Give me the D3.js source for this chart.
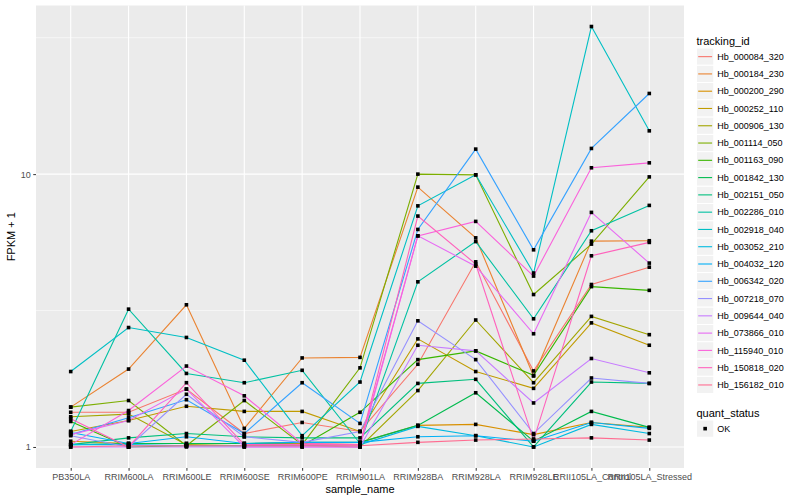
<!DOCTYPE html>
<html>
<head>
<meta charset="utf-8">
<script src="https://cdn.jsdelivr.net/npm/d3@7"></script>
<style>
  body { margin: 0; background: #fff; }
  svg { font-family: "Liberation Sans", Arial, sans-serif; }
</style>
</head>
<body>
<div id="chart"></div>
<script>
// x categories
const sampleNames = ["PB350LA", "RRIM600LA", "RRIM600LE", "RRIM600SE", "RRIM600PE", "RRIM901LA",
  "RRIM928BA", "RRIM928LA", "RRIM928LE", "RRII105LA_Control", "RRII105LA_Stressed"];

const trackingIds = ["Hb_000084_320", "Hb_000184_230", "Hb_000200_290", "Hb_000252_110", "Hb_000906_130",
  "Hb_001114_050", "Hb_001163_090", "Hb_001842_130", "Hb_002151_050", "Hb_002286_010",
  "Hb_002918_040", "Hb_003052_210", "Hb_004032_120", "Hb_006342_020", "Hb_007218_070",
  "Hb_009644_040", "Hb_073866_010", "Hb_115940_010", "Hb_150818_020", "Hb_156182_010"];

// FPKM + 1 per gene, one value per sample
const hb_000084_320 = [1.34, 1.34, 1.63, 1.12, 1.23, 1.14, 2.01, 4.77, 1.90, 3.94, 4.56];
const hb_000184_230 = [1.40, 1.93, 3.32, 1.17, 2.12, 2.13, 8.96, 5.84, 1.82, 5.68, 5.70];
const hb_000200_290 = [1.05, 1.03, 1.03, 1.03, 1.03, 1.04, 1.20, 1.21, 1.11, 1.23, 1.18];
const hb_000252_110 = [1.14, 1.25, 1.41, 1.35, 1.35, 1.14, 2.49, 1.89, 1.64, 2.85, 2.36];
const hb_000906_130 = [1.29, 1.32, 1.02, 1.01, 1.01, 1.00, 1.61, 2.92, 1.72, 3.01, 2.58];
const hb_001114_050 = [1.40, 1.48, 1.01, 1.48, 1.02, 1.95, 10.0, 9.94, 3.62, 5.54, 9.77];
const hb_001163_090 = [1.24, 1.00, 1.01, 1.01, 1.01, 1.34, 2.09, 2.25, 1.83, 3.87, 3.75];
const hb_001842_130 = [1.02, 1.03, 1.03, 1.03, 1.04, 1.04, 1.20, 1.58, 1.05, 1.35, 1.18];
const hb_002151_050 = [1.02, 1.08, 1.12, 1.09, 1.08, 1.08, 1.71, 1.77, 1.00, 1.73, 1.71];
const hb_002286_010 = [1.14, 3.20, 1.86, 1.72, 1.91, 1.03, 4.03, 5.66, 2.95, 6.20, 7.68];
const hb_002918_040 = [1.89, 2.74, 2.52, 2.08, 1.10, 1.73, 7.65, 9.94, 4.34, 34.75, 14.41];
const hb_003052_210 = [1.02, 1.02, 1.01, 1.01, 1.01, 1.02, 1.19, 1.10, 1.00, 1.21, 1.12];
const hb_004032_120 = [1.13, 1.03, 1.09, 1.03, 1.04, 1.04, 1.09, 1.10, 1.05, 1.23, 1.17];
const hb_006342_020 = [1.11, 1.28, 1.49, 1.12, 1.72, 1.22, 6.27, 12.35, 5.28, 12.42, 19.75];
const hb_007218_070 = [1.10, 1.00, 1.56, 1.09, 1.04, 1.14, 2.90, 2.09, 1.12, 1.79, 1.71];
const hb_009644_040 = [1.00, 1.00, 1.00, 1.00, 1.00, 1.00, 2.36, 2.25, 1.45, 2.11, 1.87];
const hb_073866_010 = [1.11, 1.25, 1.63, 1.00, 1.00, 1.00, 5.94, 4.60, 2.60, 7.24, 4.72];
const hb_115940_010 = [1.02, 1.36, 1.98, 1.54, 1.03, 1.02, 5.94, 6.71, 4.23, 10.55, 11.00];
const hb_150818_020 = [1.27, 1.00, 1.72, 1.02, 1.02, 1.02, 7.02, 4.68, 1.06, 5.02, 5.62];
const hb_156182_010 = [1.00, 1.01, 1.01, 1.01, 1.01, 1.01, 1.04, 1.06, 1.07, 1.08, 1.06];

const yTicks = [1, 10];
const yMinor = [Math.sqrt(10), Math.sqrt(1000)];
const quantStatus = ["OK"];

const seriesValues = [hb_000084_320, hb_000184_230, hb_000200_290, hb_000252_110, hb_000906_130,
  hb_001114_050, hb_001163_090, hb_001842_130, hb_002151_050, hb_002286_010,
  hb_002918_040, hb_003052_210, hb_004032_120, hb_006342_020, hb_007218_070,
  hb_009644_040, hb_073866_010, hb_115940_010, hb_150818_020, hb_156182_010];

// ggplot default hue palette for 20 levels
const palette = ["#F8766D", "#EA8331", "#D89000", "#C09B00", "#A3A500", "#7CAE00", "#39B600", "#00BB4E",
  "#00BF7D", "#00C1A3", "#00BFC4", "#00BAE0", "#00B0F6", "#35A2FF", "#9590FF", "#C77CFF",
  "#E76BF3", "#FA62DB", "#FF62BC", "#FF6C91"];

const series = trackingIds.map((id, i) => ({
  id,
  values: sampleNames.map((s, j) => ({ sample: s, value: seriesValues[i][j] }))
}));

const width = 800, height = 500;
const panel = { left: 36, right: 684, top: 5.5, bottom: 468 };

const svg = d3.select("#chart").append("svg")
  .attr("width", width)
  .attr("height", height);

// Scales: discrete x with ggplot's 0.6 expansion, log y with 5% expansion
const x = d3.scalePoint()
  .domain(sampleNames)
  .range([panel.left, panel.right])
  .padding(0.6);

const allVals = seriesValues.flat();
const lo = Math.log10(d3.min(allVals)), hi = Math.log10(d3.max(allVals));
const pad = (hi - lo) * 0.05;
const y = d3.scaleLog()
  .domain([Math.pow(10, lo - pad), Math.pow(10, hi + pad)])
  .range([panel.bottom, panel.top]);

// Panel background
svg.append("rect")
  .attr("x", panel.left)
  .attr("y", panel.top)
  .attr("width", panel.right - panel.left)
  .attr("height", panel.bottom - panel.top)
  .attr("fill", "#EBEBEB");

// Grid
const grid = svg.append("g");
grid.selectAll(".minor")
  .data(yMinor)
  .enter()
  .append("line")
  .attr("x1", panel.left).attr("x2", panel.right)
  .attr("y1", d => y(d)).attr("y2", d => y(d))
  .attr("stroke", "#fff")
  .attr("stroke-width", 0.55);

grid.selectAll(".majorY")
  .data(yTicks)
  .enter()
  .append("line")
  .attr("x1", panel.left).attr("x2", panel.right)
  .attr("y1", d => y(d)).attr("y2", d => y(d))
  .attr("stroke", "#fff")
  .attr("stroke-width", 1.1);

grid.selectAll(".majorX")
  .data(sampleNames)
  .enter()
  .append("line")
  .attr("x1", d => x(d)).attr("x2", d => x(d))
  .attr("y1", panel.top).attr("y2", panel.bottom)
  .attr("stroke", "#fff")
  .attr("stroke-width", 1.1);

// Lines
const line = d3.line()
  .x(d => x(d.sample))
  .y(d => y(d.value));

svg.append("g")
  .selectAll("path")
  .data(series)
  .enter()
  .append("path")
  .attr("d", d => line(d.values))
  .attr("fill", "none")
  .attr("stroke", (d, i) => palette[i])
  .attr("stroke-width", 1.1);

// Points (shape 15, black)
const pts = series.flatMap(s => s.values);
svg.append("g")
  .selectAll("rect")
  .data(pts)
  .enter()
  .append("rect")
  .attr("x", d => x(d.sample) - 1.8)
  .attr("y", d => y(d.value) - 1.8)
  .attr("width", 3.6)
  .attr("height", 3.6)
  .attr("fill", "#000");

// Axes
const xAxis = svg.append("g")
  .attr("transform", `translate(0,${panel.bottom})`)
  .call(d3.axisBottom(x).tickSize(2.75).tickPadding(2.5));
xAxis.select(".domain").remove();
xAxis.selectAll("line").attr("stroke", "#333");
xAxis.selectAll("text")
  .style("font-size", "9px")
  .style("font-family", "'Liberation Sans', Arial, sans-serif")
  .attr("fill", "#4D4D4D");

const yAxis = svg.append("g")
  .attr("transform", `translate(${panel.left},0)`)
  .call(d3.axisLeft(y).tickValues(yTicks).tickFormat(d3.format("d")).tickSize(2.75).tickPadding(2.5));
yAxis.select(".domain").remove();
yAxis.selectAll("line").attr("stroke", "#333");
yAxis.selectAll("text")
  .style("font-size", "9px")
  .style("font-family", "'Liberation Sans', Arial, sans-serif")
  .attr("fill", "#4D4D4D");

// Axis titles
svg.append("text")
  .attr("x", (panel.left + panel.right) / 2)
  .attr("y", 493)
  .attr("text-anchor", "middle")
  .style("font-size", "11px")
  .attr("fill", "#000")
  .text("sample_name");

svg.append("text")
  .attr("transform", `translate(15,${(panel.top + panel.bottom) / 2}) rotate(-90)`)
  .attr("text-anchor", "middle")
  .style("font-size", "11px")
  .attr("fill", "#000")
  .text("FPKM + 1");

// Legend: tracking_id
const key = 17.28;
const legX = 696.5;
const leg = svg.append("g");
leg.append("text")
  .attr("x", legX)
  .attr("y", 44.5)
  .style("font-size", "11px")
  .text("tracking_id");

const items = leg.selectAll(".item")
  .data(trackingIds)
  .enter()
  .append("g")
  .attr("transform", (d, i) => `translate(${legX},${48 + i * key})`);
items.append("rect")
  .attr("width", key).attr("height", key)
  .attr("fill", "#F2F2F2")
  .attr("stroke", "#fff")
  .attr("stroke-width", 1);
items.append("line")
  .attr("x1", 1.7).attr("x2", key - 1.7)
  .attr("y1", key / 2).attr("y2", key / 2)
  .attr("stroke", (d, i) => palette[i])
  .attr("stroke-width", 1.1);
items.append("text")
  .attr("x", key + 3.5)
  .attr("y", key / 2)
  .attr("dy", "0.35em")
  .style("font-size", "9px")
  .attr("fill", "#000")
  .text(d => d);

// Legend: quant_status
leg.append("text")
  .attr("x", legX)
  .attr("y", 416.5)
  .style("font-size", "11px")
  .text("quant_status");

const qItems = leg.selectAll(".qitem")
  .data(quantStatus)
  .enter()
  .append("g")
  .attr("transform", (d, i) => `translate(${legX},${420 + i * key})`);
qItems.append("rect")
  .attr("width", key).attr("height", key)
  .attr("fill", "#F2F2F2")
  .attr("stroke", "#fff");
qItems.append("rect")
  .attr("x", key / 2 - 1.8).attr("y", key / 2 - 1.8)
  .attr("width", 3.6).attr("height", 3.6)
  .attr("fill", "#000");
qItems.append("text")
  .attr("x", key + 3.5)
  .attr("y", key / 2)
  .attr("dy", "0.35em")
  .style("font-size", "9px")
  .text(d => d);
</script>
</body>
</html>
